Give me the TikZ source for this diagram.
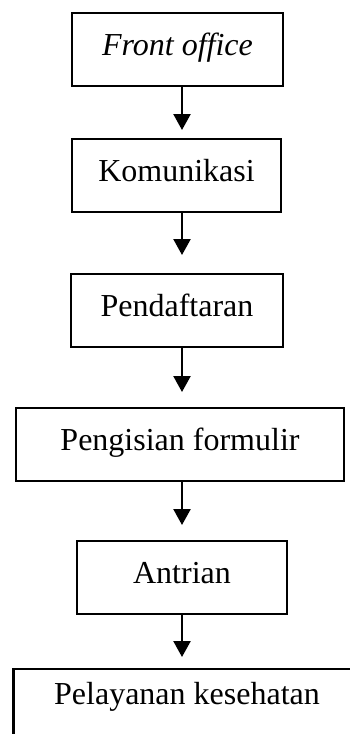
\documentclass[tikz,border=0pt]{standalone}
\usepackage{fontspec}
\setmainfont{Liberation Serif}
\usetikzlibrary{arrows.meta}
\begin{document}
\begin{tikzpicture}[x=1pt,y=-1pt,
  stepbox/.style={draw, line width=2.4pt, rectangle, inner xsep=0pt, inner ysep=0pt,
    text height=42pt, text depth=31pt, font=\fontsize{32}{38}\selectfont, anchor=north},
  flow/.style={-{Triangle[width=17pt,length=16pt]}, line width=2.4pt}]
\useasboundingbox (0,0) rectangle (350,734);
\clip (0,0) rectangle (350,734);
% vertical line on which all connectors run
\coordinate (col) at (182,0);
% process steps
\node[stepbox, minimum width=211pt] (fo) at (177.5,12) {\textit{Front office}};
\node[stepbox, minimum width=209pt] (ko) at (176.5,138) {Komunikasi};
\node[stepbox, minimum width=212pt] (pd) at (177,273) {Pendaftaran};
\node[stepbox, minimum width=328pt] (pf) at (180,407) {Pengisian formulir};
\node[stepbox, minimum width=210pt] (an) at (182,540) {Antrian};
\node[stepbox, minimum width=347pt, text height=35pt, text depth=57pt] (pk) at (187,668) {Pelayanan kesehatan};
% connectors
\draw[flow, shorten >=8pt]  (fo.south -| col) -- (ko.north -| col);
\draw[flow, shorten >=18pt] (ko.south -| col) -- (pd.north -| col);
\draw[flow, shorten >=15pt] (pd.south -| col) -- (pf.north -| col);
\draw[flow, shorten >=15pt] (pf.south -| col) -- (an.north -| col);
\draw[flow, shorten >=11pt] (an.south -| col) -- (pk.north -| col);
\end{tikzpicture}
\end{document}
